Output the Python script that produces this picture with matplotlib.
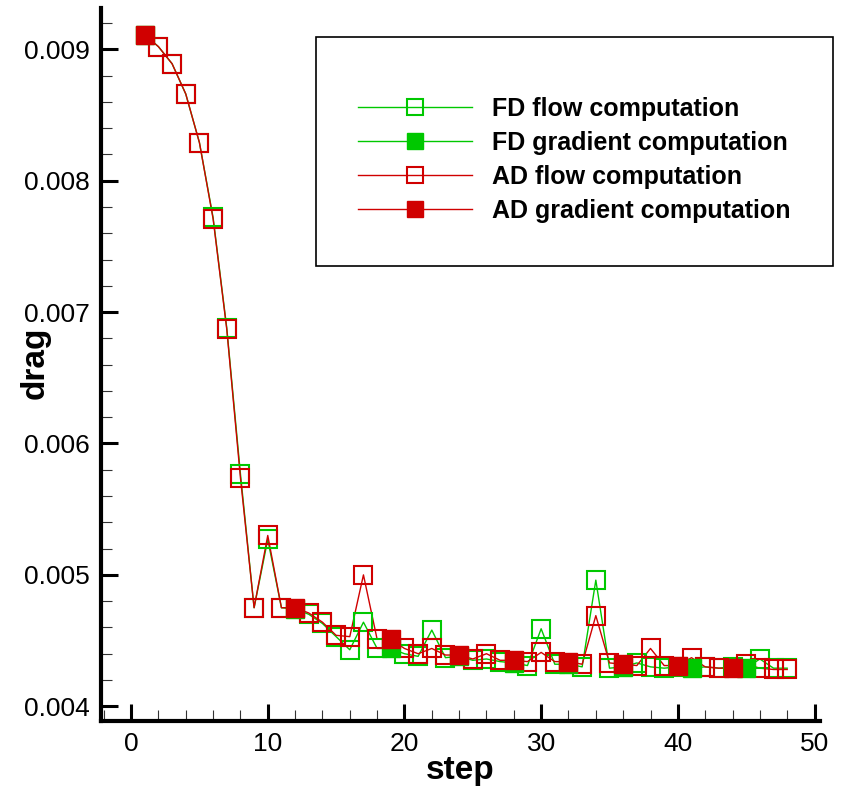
import matplotlib.pyplot as plt
import numpy as np
from matplotlib.lines import Line2D
from matplotlib.patches import Rectangle
from matplotlib.ticker import MultipleLocator, FormatStrFormatter

plt.rcParams['font.family'] = ['Liberation Sans', 'DejaVu Sans']

# drag history, one value per step (1..48)
steps = list(range(1, 49))

fd_drag = [0.00911, 0.00902, 0.00889, 0.00866, 0.00829, 0.00772, 0.00688, 0.00577,
           0.00475, 0.00527, 0.00475, 0.00474, 0.00470, 0.00463, 0.00453, 0.00443,
           0.00464, 0.00444, 0.00444, 0.00440, 0.00438, 0.00458, 0.00437, 0.00438,
           0.00435, 0.00436, 0.00434, 0.00433, 0.00431, 0.00459, 0.00432, 0.00432,
           0.00430, 0.00496, 0.00429, 0.00430, 0.00433, 0.00430, 0.00429, 0.00430,
           0.00429, 0.00430, 0.00429, 0.00430, 0.00429, 0.00436, 0.00429, 0.00429]

ad_drag = [0.00911, 0.00902, 0.00889, 0.00866, 0.00829, 0.00771, 0.00687, 0.00574,
           0.00475, 0.00530, 0.00475, 0.00475, 0.00471, 0.00464, 0.00454, 0.00453,
           0.00500, 0.00451, 0.00451, 0.00444, 0.00440, 0.00444, 0.00439, 0.00439,
           0.00436, 0.00440, 0.00435, 0.00435, 0.00434, 0.00441, 0.00434, 0.00434,
           0.00432, 0.00469, 0.00433, 0.00432, 0.00431, 0.00444, 0.00431, 0.00431,
           0.00437, 0.00430, 0.00429, 0.00429, 0.00432, 0.00429, 0.00428, 0.00428]

# steps where a gradient was computed
fd_grad_steps = [1, 12, 19, 24, 28, 32, 36, 41, 45]
ad_grad_steps = [1, 12, 19, 24, 28, 32, 36, 40, 44]

labels = ["FD flow computation", "FD gradient computation",
          "AD flow computation", "AD gradient computation"]

green = '#00c800'
red = '#d00000'

W, H = 841, 788
fig = plt.figure(figsize=(W/100, H/100), dpi=100)
ax = fig.add_axes([101/W, 1 - 721/H, 719/W, 713/H])

ms = 13
for drag, grad, col in [(fd_drag, fd_grad_steps, green), (ad_drag, ad_grad_steps, red)]:
    s = np.array(steps)
    d = np.array(drag)
    isgrad = np.isin(s, grad)
    ax.plot(s, d, '-', color=col, lw=1.0, zorder=2)
    ax.plot(s[~isgrad], d[~isgrad], 's', ms=ms, mfc='none', mec=col, mew=1.5, zorder=3)
    ax.plot(s[isgrad], d[isgrad], 's', ms=ms, mfc=col, mec=col, mew=1.0, zorder=4)

ax.set_xlim(-2.2, 50.4)
ax.set_ylim(0.003888, 0.009314)

ax.xaxis.set_major_locator(MultipleLocator(10))
ax.xaxis.set_minor_locator(MultipleLocator(2))
ax.yaxis.set_major_locator(MultipleLocator(0.001))
ax.yaxis.set_minor_locator(MultipleLocator(0.0002))
ax.yaxis.set_major_formatter(FormatStrFormatter('%.3f'))

ax.spines['top'].set_visible(False)
ax.spines['right'].set_visible(False)
ax.spines['left'].set_linewidth(3)
ax.spines['bottom'].set_linewidth(3)

ax.tick_params(which='major', direction='in', length=12, width=2.2, labelsize=19, pad=8)
ax.tick_params(which='minor', direction='in', length=8, width=0.8, color='#333333')

ax.set_xlabel('step', fontsize=24, fontweight='bold')
ax.set_ylabel('drag', fontsize=24, fontweight='bold')
ax.xaxis.set_label_coords(0.499, -0.069)
ax.yaxis.set_label_coords(-0.092, 0.503)
ax.xaxis.label.set_va('center')
ax.yaxis.label.set_va('center')

# legend frame drawn separately (box is much taller than its entries)
ax.add_patch(Rectangle((316/W, 1 - 266/H), 517/W, 229/H, transform=fig.transFigure,
                       clip_on=False, facecolor='white', edgecolor='black', lw=1.2, zorder=5))

handles = [
    Line2D([], [], color=green, lw=1, marker='s', ms=12, mfc='none', mec=green, mew=1.5),
    Line2D([], [], color=green, lw=1, marker='s', ms=12, mfc=green, mec=green),
    Line2D([], [], color=red, lw=1, marker='s', ms=12, mfc='none', mec=red, mew=1.5),
    Line2D([], [], color=red, lw=1, marker='s', ms=12, mfc=red, mec=red),
]
leg = ax.legend(handles, labels, loc='upper left', bbox_to_anchor=(358/W, 1 - 97/H),
                bbox_transform=fig.transFigure, frameon=False,
                borderaxespad=0, borderpad=0, prop={'size': 18, 'weight': 'bold'},
                handlelength=4.56, handletextpad=0.8, labelspacing=0.4)
leg.set_zorder(6)

fig.savefig('out.png', dpi=100)
